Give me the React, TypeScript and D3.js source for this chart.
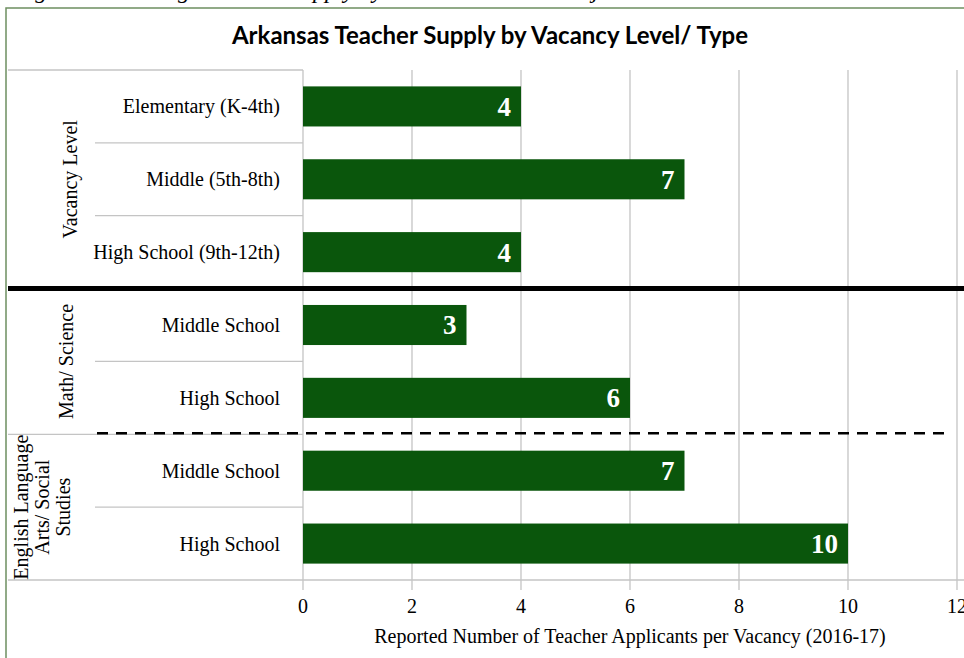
import React from "react";
import * as d3 from "d3";

const categories = [
  "Elementary (K-4th)",
  "Middle (5th-8th)",
  "High School (9th-12th)",
  "Middle School",
  "High School",
  "Middle School",
  "High School",
];
const values = [4, 7, 4, 3, 6, 7, 10];
const groupIndex = [0, 0, 0, 1, 1, 2, 2];
const groupLabels = [["Vacancy Level"], ["Math/ Science"], ["English Language", "Arts/ Social", "Studies"]];
const xTicks = [0, 2, 4, 6, 8, 10, 12];
const title = "Arkansas Teacher Supply by Vacancy Level/ Type";
const xTitle = "Reported Number of Teacher Applicants per Vacancy (2016-17)";
const caption = "Figure 10: Average Teacher Supply by Grade Level and Subject";

const W = 964;
const H = 658;
const serif = "'Liberation Serif', 'Times New Roman', serif";

export default function App() {
  const x = d3.scaleLinear().domain([0, 12]).range([303, 957]);
  const y = d3
    .scaleBand<number>()
    .domain(categories.map((_, i) => i))
    .range([70, 580])
    .paddingInner(0.45)
    .paddingOuter(0.225);
  const step = y.step();
  const rowTop = (i: number) => (y(i) as number) - y.paddingOuter() * step;

  const groups = groupLabels.map((lab, g) => {
    const idx = groupIndex.map((gi, i) => (gi === g ? i : -1)).filter((i) => i >= 0);
    const top = rowTop(idx[0]);
    const bottom = rowTop(idx[idx.length - 1]) + step;
    return { lab, top, bottom, idx };
  });

  const gridColor = "#c4c4c4";
  const barColor = "#0a560c";

  return (
    <svg
      width={W}
      height={H}
      style={{ position: "absolute", left: 0, top: 0, background: "#fff" }}
    >
      {/* cut-off caption */}
      <text x={14} y={-2} fontFamily={serif} fontStyle="italic" fontSize={24} fill="#000">
        {caption}
      </text>
      {/* outer frame */}
      <rect x={6} y={8} width={W + 10} height={H + 10} fill="none" stroke="#6e8f60" strokeWidth={1.5} />
      {/* title */}
      <text
        x={490}
        y={44}
        textAnchor="middle"
        fontFamily="Lato, 'Open Sans', sans-serif"
        fontWeight="bold"
        fontSize={24}
        fill="#000"
      >
        {title}
      </text>

      {/* vertical grid lines */}
      {xTicks.map((t) => (
        <line key={"g" + t} x1={x(t)} x2={x(t)} y1={70} y2={590} stroke={gridColor} strokeWidth={1.3} />
      ))}
      <line x1={8} x2={x(0)} y1={70} y2={70} stroke={gridColor} strokeWidth={1.3} />
      <line x1={8} x2={W} y1={580} y2={580} stroke={gridColor} strokeWidth={1.3} />

      {groups.map((g) =>
        g.idx.slice(1).map((i) => (
          <line key={"r" + i} x1={95} x2={x(0)} y1={rowTop(i)} y2={rowTop(i)} stroke={gridColor} strokeWidth={1.3} />
        ))
      )}
      <line x1={8} x2={x(0)} y1={groups[2].top} y2={groups[2].top} stroke={gridColor} strokeWidth={1.3} />

      {/* bars */}
      {values.map((v, i) => (
        <g key={"b" + i}>
          <rect x={x(0)} y={y(i)} width={x(v) - x(0)} height={y.bandwidth()} fill={barColor} />
          <text
            x={x(v) - 10}
            y={(y(i) as number) + y.bandwidth() / 2}
            dy="0.35em"
            textAnchor="end"
            fontFamily={serif}
            fontWeight="bold"
            fontSize={27}
            fill="#fff"
          >
            {v}
          </text>
        </g>
      ))}

      {/* category labels */}
      {categories.map((c, i) => (
        <text
          key={"c" + i}
          x={280}
          y={(y(i) as number) + y.bandwidth() / 2}
          dy="0.35em"
          textAnchor="end"
          fontFamily={serif}
          fontSize={20}
          fill="#000"
        >
          {c}
        </text>
      ))}

      {/* group labels (rotated) */}
      {groups.map((g, gi) => {
        const cy = (g.top + g.bottom) / 2;
        const n = g.lab.length;
        const lh = 21;
        const cx = gi === 2 ? 42 : gi === 1 ? 66 : 70;
        return (
          <text
            key={"gl" + gi}
            transform={`translate(${cx},${cy}) rotate(-90)`}
            textAnchor="middle"
            fontFamily={serif}
            fontSize={20}
            fill="#000"
          >
            {g.lab.map((l, k) => (
              <tspan key={k} x={0} y={(k - (n - 1) / 2) * lh} dy="0.35em">
                {l}
              </tspan>
            ))}
          </text>
        );
      })}

      <line x1={8} x2={W} y1={groups[1].top} y2={groups[1].top} stroke="#000" strokeWidth={5} />
      <line
        x1={97}
        x2={950}
        y1={groups[2].top - 1}
        y2={groups[2].top - 1}
        stroke="#000"
        strokeWidth={2.5}
        strokeDasharray="11 8"
      />

      {xTicks.map((t) => (
        <text
          key={"t" + t}
          x={x(t)}
          y={613}
          textAnchor="middle"
          fontFamily={serif}
          fontSize={20}
          fill="#000"
        >
          {t}
        </text>
      ))}
      <text x={630} y={643} textAnchor="middle" fontFamily={serif} fontSize={20} fill="#000">
        {xTitle}
      </text>
    </svg>
  );
}
